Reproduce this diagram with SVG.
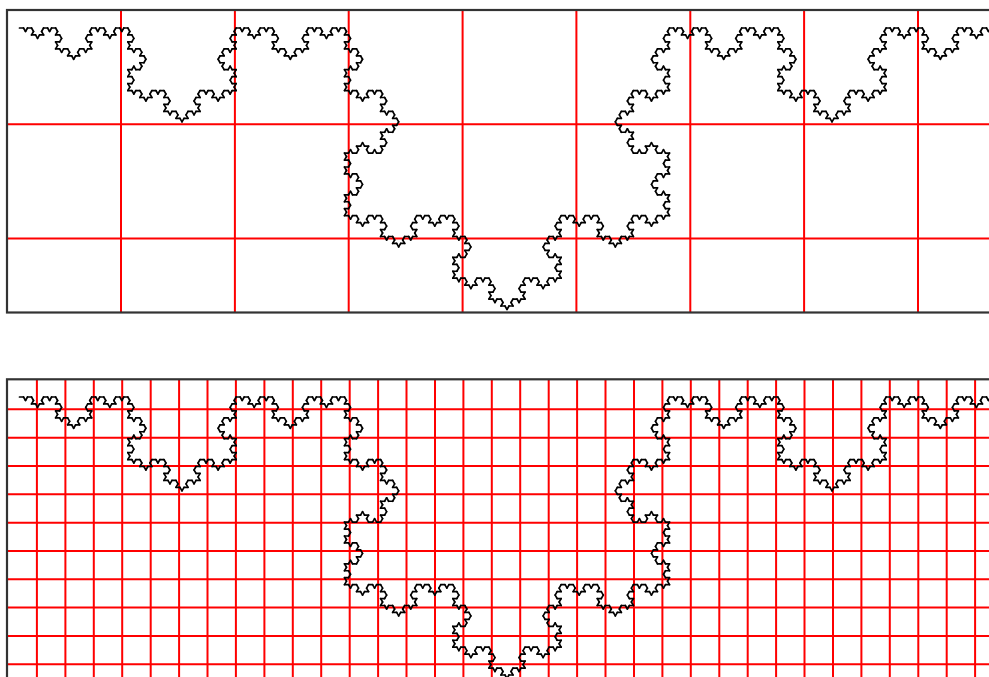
<svg xmlns="http://www.w3.org/2000/svg" xmlns:xlink="http://www.w3.org/1999/xlink" width="989" height="677" viewBox="0 0 989 677">
<style>
.panel{fill:#fff;stroke:none}
.frame{fill:none;stroke:#333;stroke-width:2.2}
.grid{fill:none;stroke:#f00;stroke-width:2}
.seg{stroke:#000;stroke-width:1.7;stroke-linecap:round}
</style>
<defs>
<line id="k0" class="seg" x1="0" y1="0" x2="4.0123" y2="0"/>
<g id="k1"><use xlink:href="#k0"/><use xlink:href="#k0" transform="translate(4.0123,0) rotate(60)"/><use xlink:href="#k0" transform="translate(6.0185,3.4748) rotate(-60)"/><use xlink:href="#k0" transform="translate(8.0247,0)"/></g>
<g id="k2"><use xlink:href="#k1"/><use xlink:href="#k1" transform="translate(12.037,0) rotate(60)"/><use xlink:href="#k1" transform="translate(18.0556,10.4243) rotate(-60)"/><use xlink:href="#k1" transform="translate(24.074,0)"/></g>
<g id="k3"><use xlink:href="#k2"/><use xlink:href="#k2" transform="translate(36.111,0) rotate(60)"/><use xlink:href="#k2" transform="translate(54.1667,31.2728) rotate(-60)"/><use xlink:href="#k2" transform="translate(72.222,0)"/></g>
<g id="k4"><use xlink:href="#k3"/><use xlink:href="#k3" transform="translate(108.333,0) rotate(60)"/><use xlink:href="#k3" transform="translate(162.5,93.8194) rotate(-60)"/><use xlink:href="#k3" transform="translate(216.667,0)"/></g>
<g id="k5"><use xlink:href="#k4"/><use xlink:href="#k4" transform="translate(325,0) rotate(60)"/><use xlink:href="#k4" transform="translate(487.5,281.458) rotate(-60)"/><use xlink:href="#k4" transform="translate(650,0)"/></g>
</defs>
<g id="top-panel">
<rect class="panel" x="7" y="10" width="990" height="302.5"/>
<path class="grid" d="M121,10V312.5M234.9,10V312.5M348.7,10V312.5M462.6,10V312.5M576.4,10V312.5M690.3,10V312.5M804.1,10V312.5M918,10V312.5M7,124.3H995M7,238.5H995"/>
<g class="koch" transform="translate(19.5,28)"><use xlink:href="#k5"/></g>
<rect class="frame" x="7" y="10" width="990" height="302.5"/>
</g>
<g id="bottom-panel">
<rect class="panel" x="7" y="379.3" width="990" height="302.5"/>
<path class="grid" d="M36.9,379.3V682M65.4,379.3V682M93.8,379.3V682M122.2,379.3V682M150.7,379.3V682M179.1,379.3V682M207.5,379.3V682M235.9,379.3V682M264.4,379.3V682M292.8,379.3V682M321.2,379.3V682M349.7,379.3V682M378.1,379.3V682M406.5,379.3V682M435,379.3V682M463.4,379.3V682M491.8,379.3V682M520.2,379.3V682M548.7,379.3V682M577.1,379.3V682M605.5,379.3V682M634,379.3V682M662.4,379.3V682M690.8,379.3V682M719.3,379.3V682M747.7,379.3V682M776.1,379.3V682M804.5,379.3V682M833,379.3V682M861.4,379.3V682M889.8,379.3V682M918.3,379.3V682M946.7,379.3V682M975.1,379.3V682M7,409.3H995M7,437.7H995M7,466H995M7,494.3H995M7,522.7H995M7,551H995M7,579.3H995M7,607.6H995M7,636H995M7,664.3H995"/>
<g class="koch" transform="translate(19.5,397)"><use xlink:href="#k5"/></g>
<rect class="frame" x="7" y="379.3" width="990" height="302.5"/>
</g>
</svg>
